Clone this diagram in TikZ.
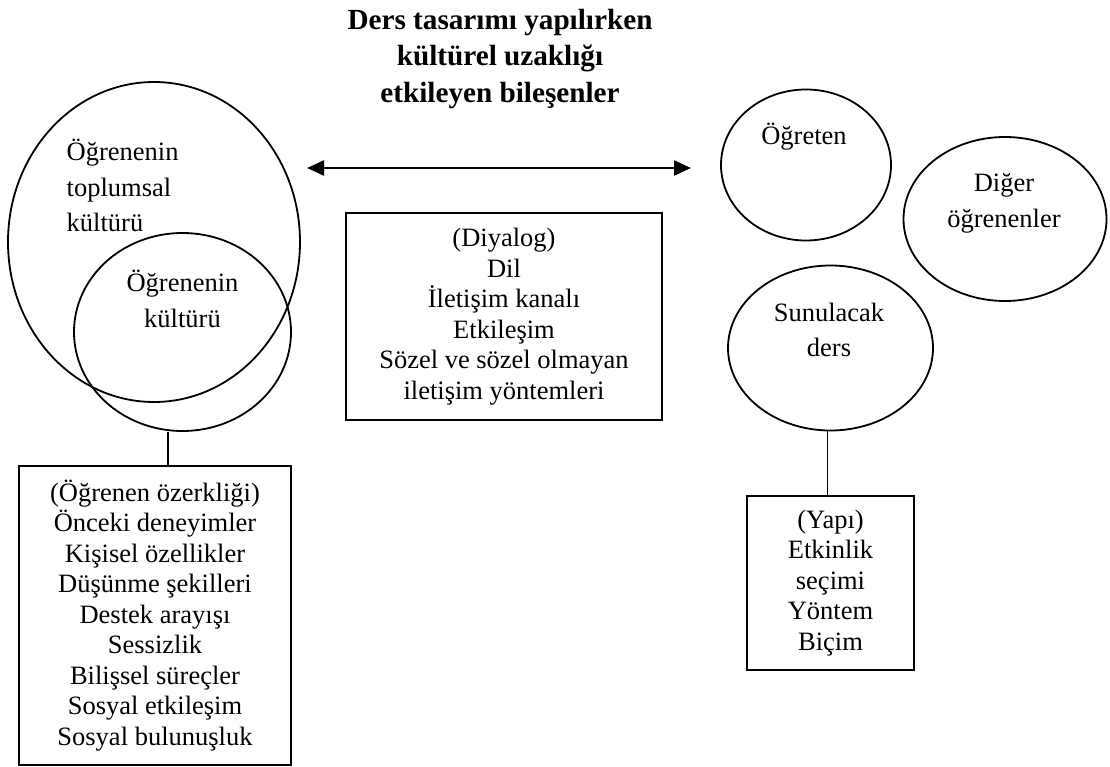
\documentclass[tikz,border=0pt]{standalone}
\usepackage{fontspec}
\setmainfont{Liberation Serif}
\usetikzlibrary{positioning,arrows.meta,shapes.geometric,calc}
\tikzset{
  every node/.style={inner sep=0pt},
  heading/.style={font=\fontsize{29.2}{36.5}\selectfont\bfseries, align=center},
  ringtext/.style={font=\fontsize{26.5}{35.5}\selectfont, align=center},
  ring/.style={ellipse, draw, line width=1.8pt},
  listbox/.style={
    rectangle, draw, line width=1.8pt,
    align=center, font=\fontsize{26.5}{30.5}\selectfont
  },
  link/.style={line width=1.8pt},
  twoway/.style={
    {Triangle[length=17pt,width=15pt]}-{Triangle[length=17pt,width=15pt]},
    line width=2.2pt
  },
}

\begin{document}
\begin{tikzpicture}[x=1pt, y=-1pt]
  \useasboundingbox (0,0) rectangle (1110,767);
  \node[heading] (title) at (500,59) {Ders tasarımı yapılırken\\kültürel uzaklığı\\etkileyen bileşenler};
  % learner side
  \node[ring, minimum width=292pt, minimum height=320pt] (society) at (154,242) {};
  \node[ring, minimum width=217pt, minimum height=198pt] (learner) at (182.5,332) {};
  \node[ringtext, align=left, anchor=west] (societytext) at (66.5,185.5) {Öğrenenin\\toplumsal\\kültürü};
  \node[ringtext] (learnertext) at (182.5,299) {Öğrenenin\\kültürü};
  \node[listbox, minimum width=272pt, minimum height=299pt] (autonomy) at (155,615.5)
    {(Öğrenen özerkliği)\\Önceki deneyimler\\Kişisel özellikler\\Düşünme şekilleri\\Destek arayışı\\Sessizlik\\Bilişsel süreçler\\Sosyal etkileşim\\Sosyal bulunuşluk};
  % dialogue in the middle
  \coordinate (arrowL) at (307,168);
  \coordinate (arrowR) at (691,168);
  \node[listbox, minimum width=316pt, minimum height=207pt] (dialogue) at (504,316.5)
    {(Diyalog)\\Dil\\İletişim kanalı\\Etkileşim\\Sözel ve sözel olmayan\\iletişim yöntemleri};
  % teaching side
  \node[ring, minimum width=170pt, minimum height=151pt] (teacher) at (806,165) {};
  \node[ringtext] (teachertext) at (804,136.4) {Öğreten};
  \node[ring, minimum width=203pt, minimum height=164pt] (others) at (1005,219) {};
  \node[ringtext] (otherstext) at (1004,203.4) {Diğer\\öğrenenler};
  \node[ring, minimum width=205pt, minimum height=165pt] (lesson) at (830.5,348) {};
  \node[ringtext] (lessontext) at (829,330) {Sunulacak\\ders};
  \node[listbox, minimum width=167pt, minimum height=174pt] (structure) at (830.5,583)
    {(Yapı)\\Etkinlik\\seçimi\\Yöntem\\Biçim};
  % connectors
  \draw[twoway] (arrowL) -- (arrowR);
  \draw[link] ([xshift=-14.5pt]learner.south) -- ([xshift=-14.5pt]learner.south |- autonomy.north);
  \draw[link] ([xshift=-3pt]lesson.south) -- ([xshift=-3pt]lesson.south |- structure.north);
\end{tikzpicture}
\end{document}
